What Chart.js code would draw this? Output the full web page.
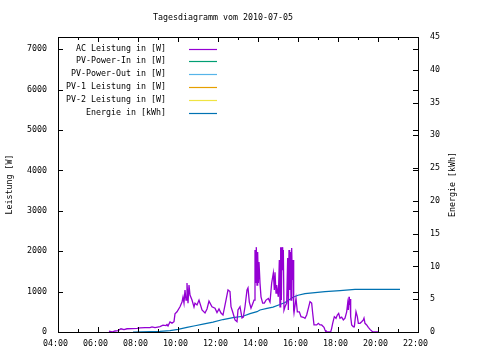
<!DOCTYPE html>
<html><head><meta charset="utf-8">
<script src="https://cdn.jsdelivr.net/npm/chart.js@4/dist/chart.umd.min.js"></script>
<style>html,body{margin:0;padding:0;background:#fff}#c{display:block}</style>
</head><body>
<canvas id="c" width="480" height="360"></canvas>
<script>
const chartTitle = "Tagesdiagramm vom 2010-07-05";
const leftAxisTitle = "Leistung [W]";
const rightAxisTitle = "Energie [kWh]";
const seriesLabels = ["AC Leistung in [W]", "PV-Power-In in [W]", "PV-Power-Out in [W]", "PV-1 Leistung in [W]", "PV-2 Leistung in [W]", "Energie in [kWh]"];
const seriesColors = ["#9400D3", "#009E73", "#56B4E9", "#E69F00", "#F0E442", "#0072B2"];
const xTickHours = [4, 6, 8, 10, 12, 14, 16, 18, 20, 22];
const leftTicks = [0, 1000, 2000, 3000, 4000, 5000, 6000, 7000];
const rightTicks = [0, 5, 10, 15, 20, 25, 30, 35, 40, 45];

const acTimes = ["06:33","06:42","06:51","07:00","07:09","07:18","07:27","07:42","07:57","08:06","08:21","08:36","08:42","08:51","09:06","09:15","09:24","09:27","09:30","09:36","09:42","09:48","09:51","09:57","10:06","10:12","10:15","10:18","10:21","10:24","10:27","10:30","10:33","10:36","10:42","10:48","10:51","10:57","11:03","11:12","11:21","11:27","11:33","11:42","11:51","11:57","12:03","12:09","12:15","12:24","12:30","12:36","12:39","12:45","12:51","12:57","13:00","13:06","13:12","13:16","13:21","13:27","13:30","13:34","13:39","13:45","13:48","13:51","13:53","13:55","13:57","13:59","14:01","14:03","14:06","14:09","14:14","14:19","14:24","14:31","14:36","14:41","14:46","14:49","14:51","14:54","14:56","15:01","15:04","15:06","15:08","15:10","15:12","15:14","15:16","15:18","15:21","15:26","15:29","15:31","15:33","15:35","15:37","15:39","15:41","15:43","15:45","15:47","15:48","15:54","15:58","16:04","16:09","16:16","16:21","16:26","16:31","16:36","16:41","16:44","16:48","16:56","17:01","17:06","17:11","17:18","17:21","17:24","17:38","17:41","17:44","17:49","17:54","17:58","18:02","18:06","18:11","18:16","18:21","18:26","18:29","18:31","18:33","18:34","18:36","18:38","18:41","18:46","18:49","18:54","18:58","19:01","19:06","19:11","19:16","19:18","19:21","19:26","19:31","19:36","19:41","19:44","19:51","20:03"];
const acWatts = [20,0,25,35,80,60,80,85,90,100,110,110,125,110,135,170,160,185,150,250,220,255,450,500,625,740,865,715,1040,790,1210,715,1160,915,790,620,715,670,790,545,470,570,765,625,590,480,570,470,420,790,1040,1000,625,470,300,255,545,625,350,370,625,1040,1090,740,590,715,790,2030,1210,2100,1160,1980,1210,1730,1210,870,715,715,790,830,740,1210,1460,1040,1480,965,1160,870,1780,625,2100,790,2100,1530,2030,545,625,715,1830,545,2030,1040,1980,790,2080,1290,1780,545,470,830,500,500,380,365,340,420,585,750,715,470,175,175,215,175,175,115,50,0,0,90,215,380,340,420,460,340,365,300,340,500,710,545,870,670,815,380,175,130,130,500,380,215,215,255,300,345,215,175,115,65,25,10,0,0];

const energyTimes = ["07:45","09:06","09:36","10:00","10:27","10:51","11:15","11:45","12:15","12:45","13:15","13:36","13:57","14:06","14:27","14:45","15:06","15:21","15:36","15:45","16:00","16:21","16:51","17:21","18:06","18:51","21:06"];
const energyKWh = [0,0.1,0.2,0.4,0.7,0.95,1.2,1.5,1.9,2.2,2.4,2.8,3.1,3.35,3.6,3.8,4.2,4.5,5.0,5.3,5.6,5.85,6.0,6.15,6.3,6.5,6.5];

function toHours(t){ const p = t.split(":"); return +p[0] + (+p[1])/60; }
function pts(times, vals){ return times.map((t,i)=>({x: toHours(t), y: vals[i]})); }
function hh(v){ return (v<10?"0":"") + v + ":00"; }

const FONT = "'DejaVu Sans Mono', monospace";
const FS = 8.3;
Chart.defaults.font.family = FONT;
Chart.defaults.font.size = FS;
Chart.defaults.color = "#000";

const datasets = seriesLabels.map((lab, i) => ({
  label: lab,
  data: i === 0 ? pts(acTimes, acWatts) : (i === 5 ? pts(energyTimes, energyKWh) : []),
  yAxisID: i === 5 ? 'y2' : 'y',
  borderColor: seriesColors[i],
  backgroundColor: seriesColors[i],
  borderWidth: i === 0 ? 1.3 : 1.2,
  pointRadius: 0,
  tension: 0,
  fill: false
}));

const deco = {
  id: 'deco',
  afterDraw(chart){
    const ctx = chart.ctx, a = chart.chartArea;
    const sx = chart.scales.x, sy = chart.scales.y, sy2 = chart.scales.y2;
    ctx.save();
    ctx.strokeStyle = "#000"; ctx.lineWidth = 1;
    ctx.beginPath();
    for (let h = 4; h <= 22; h++) {
      const px = Math.round(sx.getPixelForValue(h)) + 0.5;
      const len = (h % 2 === 0) ? 5 : 3;
      ctx.moveTo(px, a.bottom); ctx.lineTo(px, a.bottom - len);
      ctx.moveTo(px, a.top); ctx.lineTo(px, a.top + len);
    }
    leftTicks.forEach(v => {
      const py = Math.round(sy.getPixelForValue(v)) + 0.5;
      ctx.moveTo(a.left, py); ctx.lineTo(a.left + 5, py);
      ctx.moveTo(a.right, py); ctx.lineTo(a.right - 5, py);
    });
    rightTicks.forEach(v => {
      const py = Math.round(sy2.getPixelForValue(v)) + 0.5;
      ctx.moveTo(a.right, py); ctx.lineTo(a.right - 5, py);
    });
    ctx.stroke();
    ctx.strokeRect(a.left + 0.5, a.top + 0.5, a.right - a.left, a.bottom - a.top);

    ctx.fillStyle = "#000";
    ctx.font = FS + "px " + FONT;
    ctx.textBaseline = "middle";
    ctx.textAlign = "center";
    ctx.fillText(chartTitle, 223, 17.5);
    const midY = (a.top + a.bottom) / 2;
    ctx.save(); ctx.translate(10, midY); ctx.rotate(-Math.PI/2); ctx.fillText(leftAxisTitle, 0, 0); ctx.restore();
    ctx.save(); ctx.translate(453, midY); ctx.rotate(-Math.PI/2); ctx.fillText(rightAxisTitle, 0, 0); ctx.restore();

    chart.data.datasets.forEach((ds, i) => {
      const y = 48.5 + i * 12.8;
      ctx.textAlign = "right";
      ctx.fillStyle = "#000";
      ctx.fillText(ds.label, 166, y);
      ctx.strokeStyle = ds.borderColor;
      ctx.lineWidth = 1.2;
      ctx.beginPath();
      ctx.moveTo(189, Math.round(y) + 0.5); ctx.lineTo(217, Math.round(y) + 0.5);
      ctx.stroke();
    });
    ctx.restore();
  }
};

new Chart(document.getElementById('c'), {
  type: 'line',
  data: { datasets },
  options: {
    responsive: false,
    animation: false,
    devicePixelRatio: 1,
    layout: { padding: { top: 37, left: 0, right: 0, bottom: 0 } },
    plugins: { legend: { display: false }, title: { display: false }, tooltip: { enabled: false } },
    scales: {
      x: {
        type: 'linear', min: 4, max: 22,
        afterBuildTicks: s => { s.ticks = xTickHours.map(v => ({ value: v })); },
        afterFit: s => { s.height = 28; },
        ticks: { callback: v => hh(v), padding: 7, labelOffset: -2.5, maxRotation: 0, autoSkip: false, font: { size: FS, family: FONT } },
        grid: { display: false, drawTicks: false },
        border: { display: false }
      },
      y: {
        position: 'left', min: 0, max: 7300,
        afterBuildTicks: s => { s.ticks = leftTicks.map(v => ({ value: v })); },
        afterFit: s => { s.width = 58; },
        ticks: { callback: v => String(v), padding: 11, font: { size: FS, family: FONT } },
        grid: { display: false, drawTicks: false },
        border: { display: false }
      },
      y2: {
        position: 'right', min: 0, max: 45,
        afterBuildTicks: s => { s.ticks = rightTicks.map(v => ({ value: v })); },
        afterFit: s => { s.width = 62; },
        ticks: { callback: v => String(v), padding: 12, font: { size: FS, family: FONT } },
        grid: { display: false, drawTicks: false },
        border: { display: false }
      }
    }
  },
  plugins: [deco]
});
</script>
</body></html>
